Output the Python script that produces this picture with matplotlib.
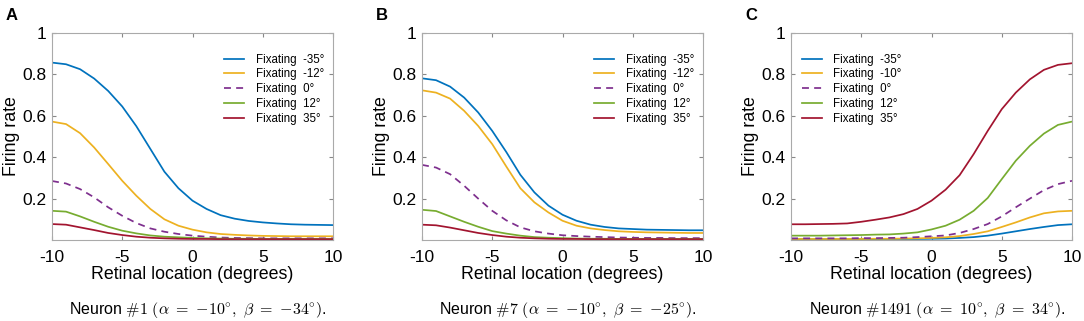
import numpy as np
import matplotlib.pyplot as plt

plt.rcParams['font.family'] = ['Liberation Sans', 'DejaVu Sans']
plt.rcParams['mathtext.fontset'] = 'cm'

x = np.arange(-10, 11)

# panel A, neuron #1
a_m35 = [0.857, 0.849, 0.825, 0.78, 0.72, 0.645, 0.55, 0.44, 0.33, 0.25, 0.19,
         0.15, 0.12, 0.103, 0.092, 0.085, 0.08, 0.076, 0.074, 0.073, 0.072]
a_m12 = [0.572, 0.56, 0.516, 0.447, 0.367, 0.286, 0.214, 0.15, 0.10, 0.069, 0.05,
         0.037, 0.029, 0.025, 0.022, 0.02, 0.019, 0.018, 0.018, 0.018, 0.018]
a_0 = [0.285, 0.273, 0.246, 0.206, 0.158, 0.117, 0.082, 0.056, 0.04, 0.029, 0.021,
       0.016, 0.012, 0.01, 0.009, 0.008, 0.008, 0.008, 0.008, 0.008, 0.008]
a_12 = [0.141, 0.137, 0.114, 0.088, 0.064, 0.045, 0.032, 0.022, 0.016, 0.013, 0.01,
        0.008, 0.007, 0.006, 0.006, 0.005, 0.005, 0.005, 0.005, 0.005, 0.005]
a_35 = [0.077, 0.074, 0.061, 0.048, 0.034, 0.024, 0.016, 0.011, 0.008, 0.006, 0.005,
        0.005, 0.004, 0.004, 0.004, 0.004, 0.004, 0.004, 0.004, 0.004, 0.004]

# panel B, neuron #7
b_m35 = [0.781, 0.772, 0.741, 0.688, 0.616, 0.527, 0.425, 0.315, 0.23, 0.166, 0.122,
         0.093, 0.074, 0.063, 0.056, 0.053, 0.05, 0.049, 0.048, 0.047, 0.047]
b_m12 = [0.723, 0.712, 0.683, 0.624, 0.551, 0.463, 0.355, 0.25, 0.182, 0.133, 0.093,
         0.069, 0.056, 0.048, 0.042, 0.039, 0.037, 0.036, 0.035, 0.034, 0.034]
b_0 = [0.363, 0.35, 0.318, 0.262, 0.2, 0.141, 0.095, 0.061, 0.042, 0.031, 0.023,
       0.019, 0.016, 0.014, 0.012, 0.011, 0.01, 0.01, 0.009, 0.009, 0.009]
b_12 = [0.146, 0.14, 0.114, 0.088, 0.064, 0.043, 0.031, 0.021, 0.014, 0.011, 0.009,
        0.007, 0.006, 0.006, 0.005, 0.005, 0.005, 0.005, 0.005, 0.005, 0.005]
b_35 = [0.074, 0.071, 0.06, 0.047, 0.034, 0.024, 0.016, 0.011, 0.008, 0.006, 0.005,
        0.005, 0.004, 0.004, 0.004, 0.004, 0.004, 0.004, 0.004, 0.004, 0.004]

# panel C, neuron #1491
c_m35 = [0.004, 0.004, 0.004, 0.004, 0.004, 0.004, 0.004, 0.005, 0.005, 0.005, 0.006,
         0.007, 0.01, 0.014, 0.021, 0.031, 0.042, 0.053, 0.063, 0.072, 0.076]
c_m10 = [0.005, 0.005, 0.005, 0.005, 0.005, 0.005, 0.006, 0.006, 0.007, 0.008, 0.01,
         0.013, 0.019, 0.029, 0.042, 0.063, 0.085, 0.109, 0.129, 0.138, 0.141]
c_0 = [0.008, 0.008, 0.008, 0.008, 0.008, 0.009, 0.009, 0.01, 0.011, 0.014, 0.018,
       0.022, 0.034, 0.053, 0.077, 0.114, 0.158, 0.2, 0.241, 0.27, 0.286]
c_12 = [0.021, 0.021, 0.021, 0.022, 0.023, 0.024, 0.026, 0.027, 0.031, 0.037, 0.051,
        0.069, 0.098, 0.141, 0.203, 0.294, 0.383, 0.455, 0.514, 0.556, 0.572]
c_35 = [0.076, 0.076, 0.077, 0.078, 0.08, 0.088, 0.098, 0.109, 0.125, 0.15, 0.19,
        0.243, 0.313, 0.415, 0.527, 0.632, 0.712, 0.776, 0.822, 0.846, 0.854]

labels_ab = ['Fixating  -35°', 'Fixating  -12°', 'Fixating  0°', 'Fixating  12°', 'Fixating  35°']
labels_c = ['Fixating  -35°', 'Fixating  -10°', 'Fixating  0°', 'Fixating  12°', 'Fixating  35°']

captions = [r'Neuron $\#1\ (\alpha\ =\ {-}10^{\circ},\ \beta\ =\ {-}34^{\circ})$.',
            r'Neuron $\#7\ (\alpha\ =\ {-}10^{\circ},\ \beta\ =\ {-}25^{\circ})$.',
            r'Neuron $\#1491\ (\alpha\ =\ 10^{\circ},\ \beta\ =\ 34^{\circ})$.']
letters = ['A', 'B', 'C']

colors = ['#0072BD', '#EDB120', '#7E2F8E', '#77AC30', '#A2142F']
styles = ['-', '-', '--', '-', '-']

panels = [[a_m35, a_m12, a_0, a_12, a_35],
          [b_m35, b_m12, b_0, b_12, b_35],
          [c_m35, c_m10, c_0, c_12, c_35]]

fig = plt.figure(figsize=(10.84, 3.21), dpi=100)
W, H = 1084, 321
lefts = [52, 422, 791]
for i in range(3):
    ax = fig.add_axes([lefts[i] / W, 1 - 240 / H, 281 / W, 207 / H])
    labels = labels_c if i == 2 else labels_ab
    for ys, c, s, lab in zip(panels[i], colors, styles, labels):
        if s == '--':
            ax.plot(x, ys, color=c, lw=1.25, label=lab, dashes=(4, 3))
        else:
            ax.plot(x, ys, color=c, lw=1.25, label=lab)
    ax.set_xlim(-10, 10)
    ax.set_ylim(0, 1)
    ax.set_xticks([-10, -5, 0, 5, 10])
    ax.set_xticklabels(['-10', '-5', '0', '5', '10'])
    ax.set_yticks([0.2, 0.4, 0.6, 0.8, 1])
    ax.set_yticklabels(['0.2', '0.4', '0.6', '0.8', '1'])
    ax.tick_params(direction='in', top=True, right=True, labelsize=12.5, length=3,
                   color='#888888')
    ax.tick_params(axis='x', pad=7)
    ax.tick_params(axis='y', pad=4)
    for sp in ax.spines.values():
        sp.set_color('#aaaaaa')
        sp.set_linewidth(0.8)
    ax.set_xlabel('Retinal location (degrees)', fontsize=12.8, labelpad=1)
    ax.set_ylabel('Firing rate', fontsize=12.8, labelpad=2)
    if i == 2:
        loc, anchor = 'upper left', (6 / 281, 1 - 16 / 207)
    else:
        loc, anchor = 'upper right', (1 - 4 / 281, 1 - 16 / 207)
    ax.legend(loc=loc, bbox_to_anchor=anchor, borderaxespad=0, frameon=False,
              fontsize=8.3, handlelength=1.75, handletextpad=1.0, labelspacing=0.25)
    fig.text((lefts[i] + 146) / W, 1 - 310 / H, captions[i], ha='center', va='center',
             fontsize=11.5)
    fig.text((lefts[i] - 46) / W, 1 - 15 / H, letters[i], ha='left', va='center',
             fontsize=12, fontweight='bold')

fig.savefig('out.png', dpi=100)
